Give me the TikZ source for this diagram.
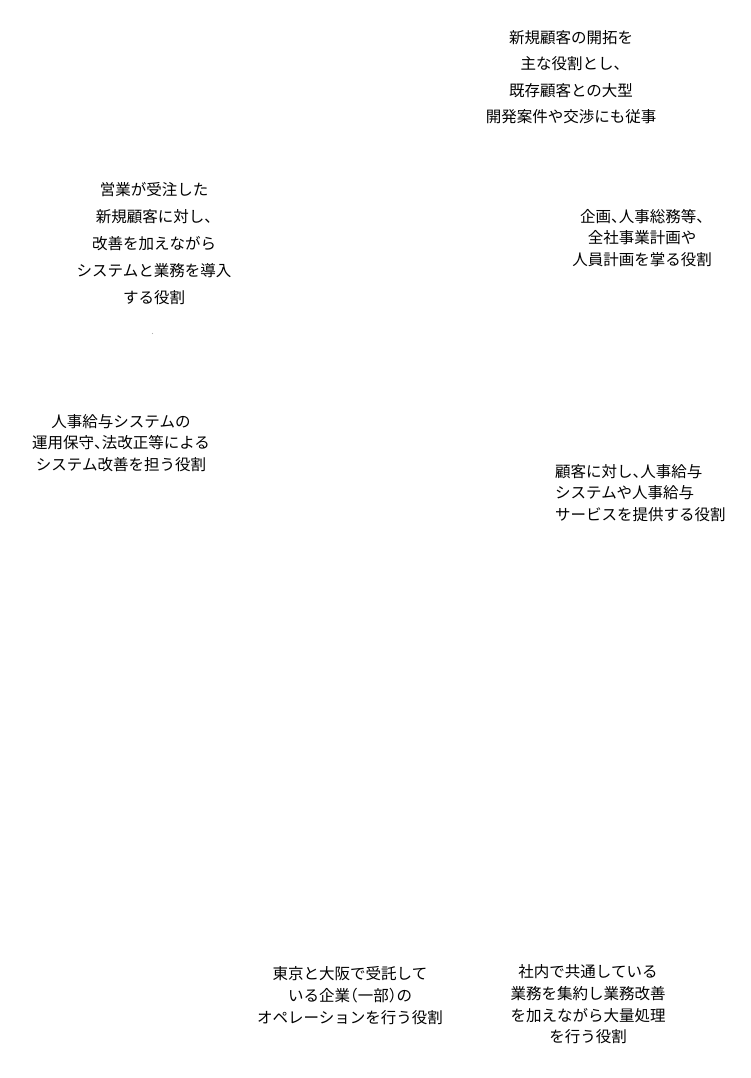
\documentclass[tikz,border=0pt]{standalone}
\usepackage{fontspec}
\newfontfamily\jp{Noto Sans CJK JP}
\newfontfamily\jph[RawFeature=+halt]{Noto Sans CJK JP}
\newcommand\tc{{\jph 、}}
\begin{document}
\begin{tikzpicture}[x=1pt,y=-1pt,
  lbl/.style={inner sep=0pt, align=center, font=\jp\fontsize{15.5}{#1}\selectfont, text=black},
  lbl/.default=22]
\useasboundingbox (0,0) rectangle (750,1078);
\node[lbl=26.5] (sales) at (571,77) {新規顧客の開拓を\\主な役割とし\tc\\既存顧客との大型\\開発案件や交渉にも従事};
\node[lbl=27] (intro) at (154,244) {営業が受注した\\新規顧客に対し\tc\\改善を加えながら\\システムと業務を導入\\する役割};
\fill[gray!60] (152.5,333.5) circle (0.6) coordinate (dot);
\node[lbl=21.5] (plan) at (642,238) {企画\tc 人事総務等\tc\\全社事業計画や\\人員計画を掌る役割};
\node[lbl=21.5] (maint) at (121,443) {人事給与システムの\\運用保守\tc 法改正等による\\システム改善を担う役割};
\node[lbl=21.5, align=left, anchor=west] (serv) at (555,493) {顧客に対し\tc 人事給与\\システムや人事給与\\サービスを提供する役割};
\node[lbl=22] (ops) at (350,996) {東京と大阪で受託して\\いる企業{\jph （}一部{\jph ）}の\\オペレーションを行う役割};
\node[lbl=21.7] (bpo) at (588,1004.5) {社内で共通している\\業務を集約し業務改善\\を加えながら大量処理\\を行う役割};
\end{tikzpicture}
\end{document}
